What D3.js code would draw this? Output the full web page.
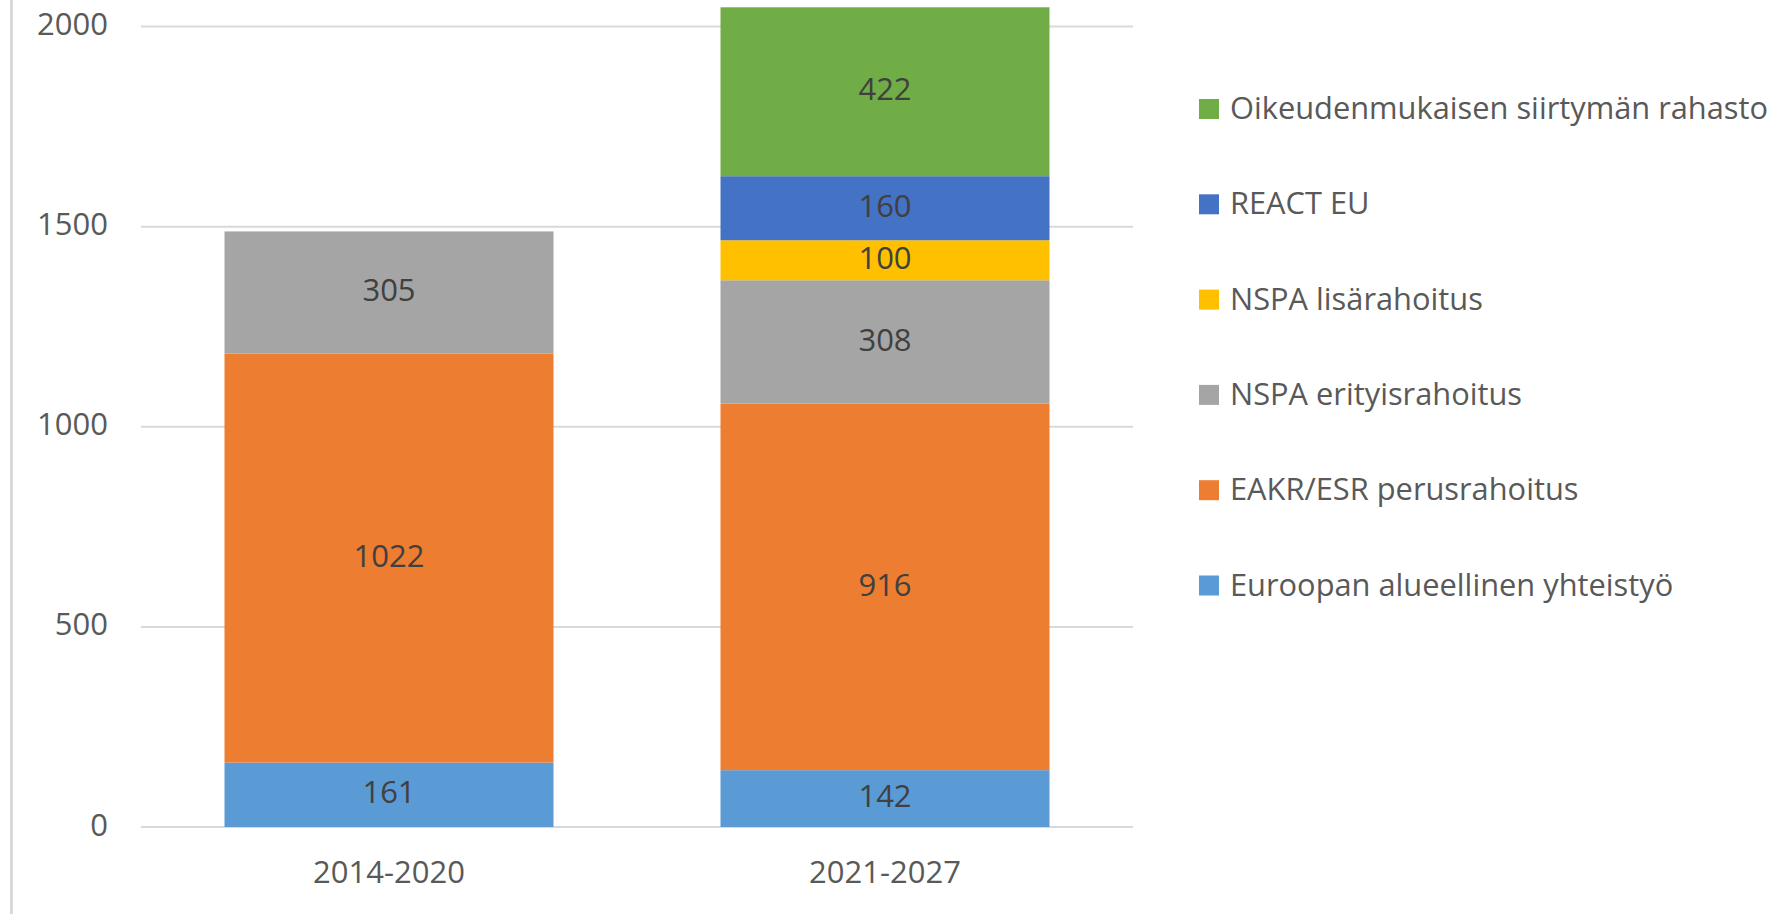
<!DOCTYPE html>
<html>
<head>
<meta charset="utf-8">
<script src="https://cdn.jsdelivr.net/npm/d3@7"></script>
<style>
  html, body { margin: 0; padding: 0; background: #fff; }
  svg { display: block; }
  text { font-family: "Open Sans", sans-serif; }
</style>
</head>
<body>
<svg id="chart" width="1781" height="914"></svg>
<script>
const categories = ["2014-2020", "2021-2027"];
const seriesNames = [
  "Euroopan alueellinen yhteistyö",
  "EAKR/ESR perusrahoitus",
  "NSPA erityisrahoitus",
  "NSPA lisärahoitus",
  "REACT EU",
  "Oikeudenmukaisen siirtymän rahasto"
];
const euroopan = [161, 142];
const eakr = [1022, 916];
const nspaErityis = [305, 308];
const nspaLisa = [0, 100];
const react = [0, 160];
const oikeuden = [0, 422];
const seriesColors = ["#5B9BD5", "#ED7D31", "#A5A5A5", "#FFC000", "#4472C4", "#70AD47"];
const yTicks = [0, 500, 1000, 1500, 2000];

const seriesValues = [euroopan, eakr, nspaErityis, nspaLisa, react, oikeuden];
const rows = categories.map((c, i) => {
  const r = { category: c };
  seriesNames.forEach((s, j) => { r[s] = seriesValues[j][i]; });
  return r;
});

const svg = d3.select("#chart");
const FS = 31;

// outer border (left edge visible)
svg.append("line")
  .attr("x1", 11.5).attr("x2", 11.5).attr("y1", 0).attr("y2", 914)
  .attr("stroke", "#d9d9d9").attr("stroke-width", 3);

const x = d3.scaleBand().domain(categories).range([141, 1133])
  .paddingInner(1 - 329 / 496).paddingOuter((1 - 329 / 496) / 2);
const y = d3.scaleLinear().domain([0, 2000]).range([827, 26.5]);

// gridlines
svg.append("g").selectAll("line").data(yTicks).join("line")
  .attr("x1", 141).attr("x2", 1133)
  .attr("y1", d => y(d)).attr("y2", d => y(d))
  .attr("stroke", "#d9d9d9").attr("stroke-width", 2);

// y axis labels
const yAxis = d3.axisLeft(y).tickValues(yTicks).tickSize(0).tickPadding(0).tickFormat(d3.format("d"));
const yG = svg.append("g").attr("transform", "translate(108,0)").call(yAxis);
yG.select(".domain").remove();
yG.selectAll("text").attr("font-size", FS).attr("fill", "#595959")
  .attr("font-family", "Open Sans, sans-serif").attr("dy", "0.26em");

// x axis labels
const xAxis = d3.axisBottom(x).tickSize(0).tickPadding(0);
const xG = svg.append("g").attr("transform", "translate(0,864)").call(xAxis);
xG.select(".domain").remove();
xG.selectAll("text").attr("font-size", FS).attr("fill", "#595959")
  .attr("font-family", "Open Sans, sans-serif").attr("dy", "0.6em");

// stacked bars
const stack = d3.stack().keys(seriesNames);
const stacked = stack(rows);

const layers = svg.append("g").selectAll("g").data(stacked).join("g")
  .attr("fill", (d, i) => seriesColors[i]);
layers.selectAll("rect").data(d => d.filter(s => s[1] - s[0] > 0)).join("rect")
  .attr("x", d => x(d.data.category))
  .attr("width", x.bandwidth())
  .attr("y", d => y(d[1]))
  .attr("height", d => y(d[0]) - y(d[1]));

// data labels
const labelG = svg.append("g");
stacked.forEach(layer => {
  layer.forEach(s => {
    const v = s[1] - s[0];
    if (v <= 0) return;
    labelG.append("text")
      .attr("x", x(s.data.category) + x.bandwidth() / 2)
      .attr("y", (y(s[0]) + y(s[1])) / 2)
      .attr("dy", "0.28em")
      .attr("text-anchor", "middle")
      .attr("font-size", FS)
      .attr("fill", "#404040")
      .text(v);
  });
});

// legend (reverse order, top = last series)
const legendOrder = seriesNames.map((s, i) => ({ name: s, color: seriesColors[i] })).reverse();
const leg = svg.append("g").selectAll("g").data(legendOrder).join("g")
  .attr("transform", (d, i) => `translate(1199,${109 + i * 95.3})`);
leg.append("rect").attr("x", 0).attr("y", -10).attr("width", 20).attr("height", 20)
  .attr("fill", d => d.color);
leg.append("text").attr("x", 31).attr("y", 0).attr("dy", "0.33em")
  .attr("font-size", 30.8).attr("fill", "#595959").text(d => d.name);
</script>
</body>
</html>
